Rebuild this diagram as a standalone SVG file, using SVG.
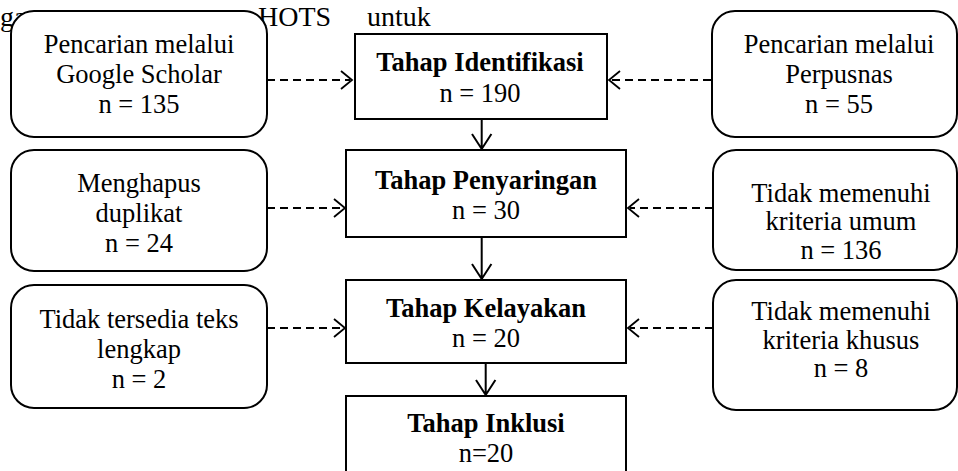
<svg xmlns="http://www.w3.org/2000/svg" width="958" height="471" viewBox="0 0 958 471">
<style>
text{font-family:"Liberation Serif","Times New Roman",serif;font-size:26.5px;fill:#000;text-anchor:middle}
.b{font-weight:bold}
.side{fill:#fff;stroke:#000;stroke-width:2}
.main{fill:#fff;stroke:#000;stroke-width:2}
.dash{fill:none;stroke:#000;stroke-width:1.8;stroke-dasharray:8 5}
.solid{fill:none;stroke:#000;stroke-width:2}
.head{fill:none;stroke:#000;stroke-width:1.8}
.top{font-size:28px;text-anchor:start}
</style>
<rect width="958" height="471" fill="#fff"/>
<g id="bgtext">
<text class="top" x="0" y="26">ga</text>
<text class="top" x="258" y="26">HOTS</text>
<text class="top" x="367" y="26">untuk</text>
</g>
<g id="connectors">
<path class="dash" d="M267 80H350"/><path class="head" d="M341 71L352 80L341 89"/>
<path class="dash" d="M711 80H611"/><path class="head" d="M620 71L609 80L620 89"/>
<path class="dash" d="M267 208H343"/><path class="head" d="M334 199L345 208L334 217"/>
<path class="dash" d="M713 208H630"/><path class="head" d="M639 199L628 208L639 217"/>
<path class="dash" d="M267 328H343"/><path class="head" d="M334 319L345 328L334 337"/>
<path class="dash" d="M713 328H630"/><path class="head" d="M639 319L628 328L639 337"/>
<path class="solid" d="M481.7 119V149M472 134L481.7 149L491.4 134"/>
<path class="solid" d="M481.7 237V279M472 264L481.7 279L491.4 264"/>
<path class="solid" d="M485.7 363V395M476 380L485.7 395L495.4 380"/>
</g>
<g id="google">
<rect class="side" x="11" y="11" width="256" height="126" rx="23"/>
<text x="139" y="53">Pencarian melalui</text>
<text x="139" y="83">Google Scholar</text>
<text x="139" y="113">n = 135</text>
</g>
<g id="perpusnas">
<rect class="side" x="712" y="11" width="245" height="126" rx="23"/>
<text x="839" y="53">Pencarian melalui</text>
<text x="839" y="83">Perpusnas</text>
<text x="839" y="113">n = 55</text>
</g>
<g id="identifikasi">
<rect class="main" x="355" y="34" width="252" height="85"/>
<text class="b" x="480" y="70.5">Tahap Identifikasi</text>
<text x="480" y="101.5">n = 190</text>
</g>
<g id="duplikat">
<rect class="side" x="11" y="150" width="256" height="121" rx="23"/>
<text x="139" y="191.5">Menghapus</text>
<text x="139" y="221.5">duplikat</text>
<text x="139" y="251.5">n = 24</text>
</g>
<g id="penyaringan">
<rect class="main" x="346" y="150" width="280" height="87"/>
<text class="b" x="486" y="189">Tahap Penyaringan</text>
<text x="486" y="219">n = 30</text>
</g>
<g id="umum">
<rect class="side" x="713" y="150" width="244" height="120" rx="23"/>
<text x="841" y="201.5">Tidak memenuhi</text>
<text x="841" y="230">kriteria umum</text>
<text x="841" y="258.5">n = 136</text>
</g>
<g id="teks">
<rect class="side" x="11" y="285" width="256" height="123" rx="23"/>
<text x="139" y="328">Tidak tersedia teks</text>
<text x="139" y="358">lengkap</text>
<text x="139" y="388">n = 2</text>
</g>
<g id="kelayakan">
<rect class="main" x="346" y="280" width="280" height="83"/>
<text class="b" x="486" y="316.5">Tahap Kelayakan</text>
<text x="486" y="346.5">n = 20</text>
</g>
<g id="khusus">
<rect class="side" x="713" y="280" width="244" height="130" rx="23"/>
<text x="841" y="320">Tidak memenuhi</text>
<text x="841" y="348.5">kriteria khusus</text>
<text x="841" y="377">n = 8</text>
</g>
<g id="inklusi">
<rect class="main" x="346" y="396" width="280" height="100"/>
<text class="b" x="486" y="431.5">Tahap Inklusi</text>
<text x="486" y="461.5">n=20</text>
</g>
</svg>
